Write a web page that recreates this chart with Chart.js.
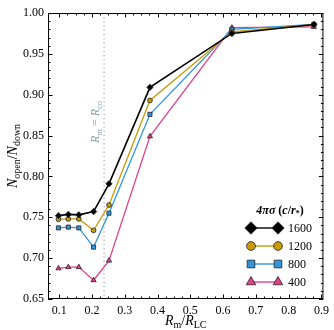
<!DOCTYPE html>
<html>
<head>
<meta charset="utf-8">
<script src="https://cdn.jsdelivr.net/npm/chart.js@4"></script>
<style>
  html, body { margin: 0; padding: 0; background: #fff; }
  #wrap { width: 334px; height: 330px; position: relative; }
</style>
</head>
<body>
<div id="wrap"><canvas id="chart"></canvas></div>
<script>
// R_m / R_LC
const rm = [0.098, 0.128, 0.16, 0.205, 0.252, 0.377, 0.627, 0.877];
// N_open / N_down per 4*pi*sigma
const n1600 = [0.752, 0.7535, 0.753, 0.757, 0.791, 0.909, 0.975, 0.986];
const n1200 = [0.7475, 0.748, 0.748, 0.734, 0.765, 0.893, 0.977, 0.986];
const n800 = [0.737, 0.738, 0.737, 0.7135, 0.755, 0.876, 0.980, 0.986];
const n400 = [0.6875, 0.689, 0.689, 0.673, 0.697, 0.849, 0.982, 0.983];
const sigmaLabels = ["1600", "1200", "800", "400"];
const rCo = 0.237; // R_m = R_co

const serif = "'Liberation Serif', 'DejaVu Serif', serif";
const gold = "#c99a06";
const blue = "#2f95dc";
const pink = "#e0408c";

const pts = ys => rm.map((x, i) => ({ x: x, y: ys[i] }));

const series = [
  { data: n1600, color: "#000", style: "rectRot", r: 3.2, lr: 6.2 },
  { data: n1200, color: gold, style: "circle", r: 2.4, lr: 4.4 },
  { data: n800, color: blue, style: "rect", r: 2.9, lr: 5.4 },
  { data: n400, color: pink, style: "triangle", r: 3, lr: 5.5 },
];

const datasets = series.map((s, i) => ({
  label: sigmaLabels[i],
  data: pts(s.data),
  borderColor: s.color,
  backgroundColor: s.color,
  pointBorderColor: "#222",
  pointBorderWidth: 0.8,
  pointStyle: s.style,
  pointRadius: s.r,
  borderWidth: i === 0 ? 1.6 : 1.3,
  showLine: true,
  tension: 0,
}));

// draw text made of pieces (sub/superscripts)
function drawPieces(ctx, pieces, x, y, align) {
  let w = 0;
  pieces.forEach(p => { ctx.font = p.font; w += ctx.measureText(p.t).width; });
  let cx = align === "center" ? x - w / 2 : x;
  ctx.textBaseline = "alphabetic";
  ctx.textAlign = "left";
  pieces.forEach(p => {
    ctx.font = p.font;
    ctx.fillText(p.t, cx, y + (p.dy || 0));
    cx += ctx.measureText(p.t).width;
  });
}

const decor = {
  id: "decor",
  beforeDatasetsDraw(chart) {
    const { ctx, chartArea: a, scales: { x, y } } = chart;
    ctx.save();
    // R_m = R_co dotted line
    const px = x.getPixelForValue(rCo);
    ctx.strokeStyle = "#7d9aa3";
    ctx.lineWidth = 1;
    ctx.setLineDash([1.2, 3]);
    ctx.beginPath();
    ctx.moveTo(px, a.top);
    ctx.lineTo(px, a.bottom);
    ctx.stroke();
    ctx.setLineDash([]);
    ctx.translate(px - 5, 122);
    ctx.rotate(-Math.PI / 2);
    ctx.fillStyle = "#86a2ab";
    drawPieces(ctx, [
      { t: "R", font: "italic 12px " + serif },
      { t: "m", font: "8.5px " + serif, dy: 2.5 },
      { t: " = ", font: "12px " + serif },
      { t: "R", font: "italic 12px " + serif },
      { t: "co", font: "8.5px " + serif, dy: 2.5 },
    ], 0, 0, "center");
    ctx.restore();
  },
  afterDraw(chart) {
    const { ctx, chartArea: a, scales: { x, y } } = chart;
    ctx.save();
    // frame
    ctx.strokeStyle = "#000";
    ctx.lineWidth = 1;
    ctx.strokeRect(a.left + 0.5, a.top + 0.5, a.right - a.left - 1, a.bottom - a.top - 1);
    // inward ticks on all sides
    ctx.beginPath();
    for (let k = 0; k <= 40; k++) {
      const v = 0.1 + k * 0.025;
      if (v > x.max + 1e-9) break;
      const p = Math.round(x.getPixelForValue(v)) + 0.5;
      const len = k % 4 === 0 ? 4.5 : 2.5;
      ctx.moveTo(p, a.bottom); ctx.lineTo(p, a.bottom - len);
      ctx.moveTo(p, a.top); ctx.lineTo(p, a.top + len);
    }
    for (let k = 0; k <= 35; k++) {
      const v = 0.65 + k * 0.01;
      const p = Math.round(y.getPixelForValue(v)) + 0.5;
      const len = k % 5 === 0 ? 4.5 : 2.5;
      ctx.moveTo(a.left, p); ctx.lineTo(a.left + len, p);
      ctx.moveTo(a.right, p); ctx.lineTo(a.right - len, p);
    }
    ctx.stroke();

    // axis titles
    ctx.fillStyle = "#000";
    drawPieces(ctx, [
      { t: "R", font: "italic 14px " + serif },
      { t: "m", font: "10px " + serif, dy: 3 },
      { t: "/", font: "14px " + serif },
      { t: "R", font: "italic 14px " + serif },
      { t: "LC", font: "10px " + serif, dy: 3 },
    ], (a.left + a.right) / 2, 325, "center");
    ctx.save();
    ctx.translate(17, (a.top + a.bottom) / 2);
    ctx.rotate(-Math.PI / 2);
    drawPieces(ctx, [
      { t: "N", font: "italic 14px " + serif },
      { t: "open", font: "10px " + serif, dy: 3 },
      { t: "/", font: "14px " + serif },
      { t: "N", font: "italic 14px " + serif },
      { t: "down", font: "10px " + serif, dy: 3 },
    ], 0, 0, "center");
    ctx.restore();

    // legend
    drawPieces(ctx, [
      { t: "4πσ", font: "italic bold 12px " + serif },
      { t: " (", font: "bold 12px " + serif },
      { t: "c", font: "italic bold 12px " + serif },
      { t: "/", font: "bold 12px " + serif },
      { t: "r", font: "italic bold 12px " + serif },
      { t: "*", font: "bold 8px " + serif, dy: 2 },
      { t: ")", font: "bold 12px " + serif },
    ], 280, 214, "center");
    const x0 = 251, x1 = 278, tx = 288;
    const rows = [228, 246, 264, 282];
    series.forEach((s, i) => {
      const ly = rows[i];
      ctx.strokeStyle = s.color;
      ctx.lineWidth = 1.4;
      ctx.beginPath();
      ctx.moveTo(x0, ly); ctx.lineTo(x1, ly);
      ctx.stroke();
      ctx.fillStyle = s.color;
      ctx.strokeStyle = "#222";
      ctx.lineWidth = 0.8;
      [x0, x1].forEach(px => {
        Chart.helpers.drawPoint(ctx, { pointStyle: s.style, radius: s.lr, borderWidth: 0.8, rotation: 0 }, px, ly);
      });
      ctx.fillStyle = "#000";
      ctx.font = "12px " + serif;
      ctx.textBaseline = "middle";
      ctx.textAlign = "left";
      ctx.fillText(sigmaLabels[i], tx, ly + 1);
    });
    ctx.restore();
  }
};

new Chart(document.getElementById("chart"), {
  type: "line",
  data: { datasets: datasets },
  options: {
    responsive: true,
    maintainAspectRatio: false,
    animation: false,
    layout: { padding: { top: 13, right: 10, left: 0, bottom: 0 } },
    plugins: { legend: { display: false }, tooltip: { enabled: false } },
    scales: {
      x: {
        type: "linear",
        min: 0.066,
        max: 0.906,
        grid: { display: false, drawTicks: false },
        border: { display: false },
        ticks: {
          stepSize: 0.1,
          includeBounds: false,
          padding: 5,
          color: "#000",
          font: { family: serif, size: 12 },
          callback: v => v.toFixed(1),
        },
        afterFit: s => { s.height = 31; },
      },
      y: {
        min: 0.65,
        max: 1.0,
        grid: { display: false, drawTicks: false },
        border: { display: false },
        ticks: {
          stepSize: 0.05,
          padding: 4,
          color: "#000",
          font: { family: serif, size: 12 },
          callback: v => v.toFixed(2),
        },
        afterFit: s => { s.width = 48; },
      },
    },
  },
  plugins: [decor],
});
</script>
</body>
</html>
